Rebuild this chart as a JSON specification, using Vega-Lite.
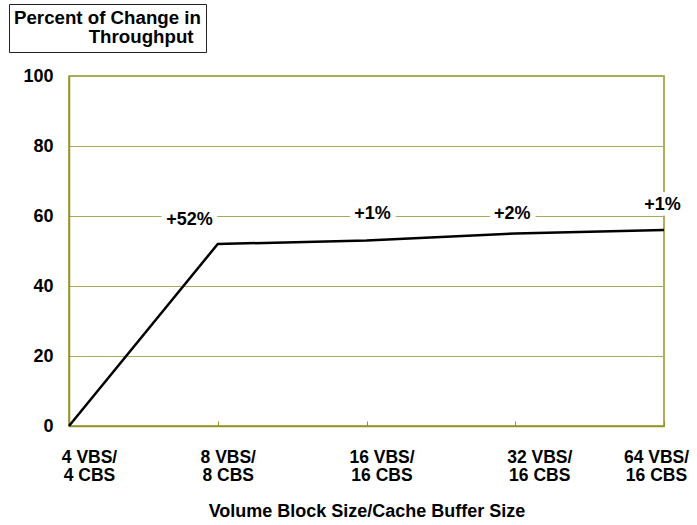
{
  "$schema": "https://vega.github.io/schema/vega-lite/v6.json",
  "padding": {"left": 8, "top": 3, "right": 5, "bottom": 3},
  "background": "white",
  "width": 595,
  "height": 350,
  "config": {
    "font": "Liberation Sans",
    "view": {"stroke": "#939326", "strokeWidth": 1.5},
    "axis": {
      "labelFont": "Liberation Sans",
      "labelFontSize": 18,
      "labelFontWeight": "bold",
      "labelColor": "black",
      "titleFont": "Liberation Sans",
      "titleFontSize": 18,
      "titleFontWeight": "bold",
      "titleColor": "black"
    }
  },
  "datasets": {
    "series": [
      {"x": 0, "y": 0},
      {"x": 1, "y": 52},
      {"x": 2, "y": 53},
      {"x": 3, "y": 55},
      {"x": 4, "y": 56}
    ],
    "notes": [
      {"x": 0.81, "y": 59, "label": "+52%"},
      {"x": 2.04, "y": 60.7, "label": "+1%"},
      {"x": 2.98, "y": 60.5, "label": "+2%"},
      {"x": 3.99, "y": 63.1, "label": "+1%"}
    ]
  },
  "encoding": {
    "x": {
      "field": "x",
      "type": "quantitative",
      "scale": {"domain": [0, 4], "nice": false, "zero": false},
      "axis": {
        "values": [0, 1, 2, 3, 4],
        "title": "Volume Block Size/Cache Buffer Size",
        "titlePadding": 18,
        "grid": false,
        "domainColor": "#939326",
        "domainWidth": 1.5,
        "ticks": true,
        "tickColor": "#939326",
        "tickSize": -5,
        "labelPadding": 27,
        "labelFontSize": 17.5,
        "labelBaseline": "top",
        "labelLineHeight": 18.5,
        "labelFlush": false,
        "labelOverlap": false,
        "labelOffset": {
          "condition": [
            {"test": "datum.value === 0", "value": 20},
            {"test": "datum.value === 1", "value": 10},
            {"test": "datum.value === 2", "value": 15},
            {"test": "datum.value === 3", "value": 24}
          ],
          "value": -8
        },
        "labelExpr": "datum.value === 0 ? ['4 VBS/', '4 CBS'] : datum.value === 1 ? ['8 VBS/', '8 CBS'] : datum.value === 2 ? ['16 VBS/', '16 CBS'] : datum.value === 3 ? ['32 VBS/', '16 CBS'] : ['64 VBS/', '16 CBS']"
      }
    },
    "y": {
      "field": "y",
      "type": "quantitative",
      "scale": {"domain": [0, 100], "nice": false},
      "axis": {
        "values": [0, 20, 40, 60, 80, 100],
        "title": null,
        "grid": true,
        "gridColor": "#A9A95A",
        "gridWidth": 1,
        "domainColor": "#939326",
        "domainWidth": 1.5,
        "ticks": false,
        "labelPadding": 16
      }
    }
  },
  "layer": [
    {
      "data": {"name": "notes"},
      "mark": {"type": "text", "fontSize": 18, "fontWeight": "bold", "color": "white", "stroke": "white", "strokeWidth": 11, "strokeJoin": "round", "baseline": "middle", "align": "center"},
      "encoding": {"text": {"field": "label", "type": "nominal"}}
    },
    {
      "data": {"name": "series"},
      "mark": {"type": "line", "strokeWidth": 2.5},
      "encoding": {
        "stroke": {
          "datum": "Throughput",
          "type": "nominal",
          "scale": {"range": ["black"]},
          "legend": {
            "orient": "none",
            "legendX": -60,
            "legendY": -72,
            "title": "Percent of Change in",
            "titleFont": "Liberation Sans",
            "titleFontSize": 18.7,
            "titleFontWeight": "bold",
            "titleColor": "black",
            "titlePadding": 0,
            "titleLimit": 400,
            "labelFont": "Liberation Sans",
            "labelFontSize": 18.7,
            "labelFontWeight": "bold",
            "labelColor": "black",
            "labelOffset": 56,
            "labelLimit": 300,
            "symbolOpacity": 0,
            "symbolSize": 0,
            "strokeColor": "#222222",
            "fillColor": "white",
            "padding": 5
          }
        }
      }
    },
    {
      "data": {"name": "notes"},
      "mark": {"type": "text", "fontSize": 18, "fontWeight": "bold", "color": "black", "baseline": "middle", "align": "center"},
      "encoding": {"text": {"field": "label", "type": "nominal"}}
    }
  ]
}
